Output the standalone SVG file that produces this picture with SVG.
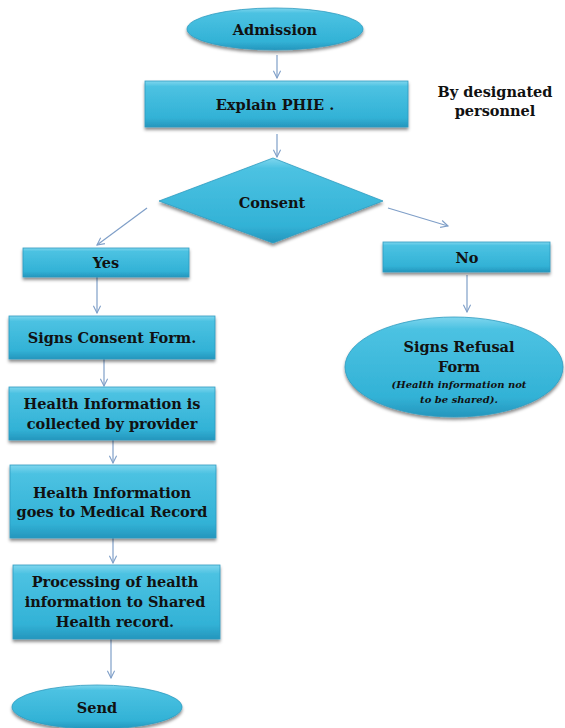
<svg xmlns="http://www.w3.org/2000/svg" width="565" height="728" viewBox="0 0 565 728">
<style>
.n{fill:url(#g);stroke:#2f9cc0;stroke-width:0.8;filter:url(#sh)}
.t{font-family:'DejaVu Serif',serif;font-weight:bold;font-size:14.5px;fill:#111;text-anchor:middle}
.i{font-family:'DejaVu Serif',serif;font-weight:bold;font-style:italic;font-size:10px;fill:#111;text-anchor:middle}
.c{fill:none;stroke:#7f9fc8;stroke-width:1.2}
</style>
<defs>
<linearGradient id="g" x1="0" y1="0" x2="0" y2="1">
<stop offset="0" stop-color="#7fd6ee"/>
<stop offset="0.12" stop-color="#4cc2e2"/>
<stop offset="0.8" stop-color="#32b2d6"/>
<stop offset="1" stop-color="#2596bd"/>
</linearGradient>
<filter id="sh" x="-10%" y="-20%" width="120%" height="150%">
<feDropShadow dx="0" dy="2.5" stdDeviation="1.8" flood-color="#000" flood-opacity="0.45"/>
</filter>
<marker id="a" viewBox="0 0 10 10" refX="9" refY="5" markerWidth="9" markerHeight="9" orient="auto" markerUnits="userSpaceOnUse">
<path d="M1,1 L9,5 L1,9" fill="none" stroke="#7f9fc8" stroke-width="1.2"/>
</marker>
</defs>
<g id="connectors">
<line class="c" x1="277" y1="55" x2="277" y2="78" marker-end="url(#a)"/>
<line class="c" x1="277" y1="134" x2="277" y2="157" marker-end="url(#a)"/>
<line class="c" x1="147" y1="208" x2="97" y2="245" marker-end="url(#a)"/>
<line class="c" x1="388" y1="208" x2="448" y2="226" marker-end="url(#a)"/>
<line class="c" x1="97" y1="277" x2="97" y2="313" marker-end="url(#a)"/>
<line class="c" x1="467" y1="275" x2="467" y2="312" marker-end="url(#a)"/>
<line class="c" x1="104" y1="359" x2="104" y2="386" marker-end="url(#a)"/>
<line class="c" x1="113" y1="440" x2="113" y2="463" marker-end="url(#a)"/>
<line class="c" x1="113" y1="538" x2="113" y2="563" marker-end="url(#a)"/>
<line class="c" x1="111" y1="639" x2="111" y2="678" marker-end="url(#a)"/>
</g>
<g id="admission"><ellipse class="n" cx="275" cy="29" rx="88" ry="21"/><text class="t" x="275" y="35">Admission</text></g>
<g id="explain"><rect class="n" x="145" y="81" width="263" height="46"/><text class="t" x="275" y="110">Explain PHIE .</text></g>
<g id="note"><text class="t" x="495" y="97">By designated</text><text class="t" x="495" y="116">personnel</text></g>
<g id="consent"><polygon class="n" points="273,158 383,201 273,243 159,201"/><text class="t" x="272" y="208">Consent</text></g>
<g id="yes"><rect class="n" x="23" y="248" width="166" height="29"/><text class="t" x="106" y="268">Yes</text></g>
<g id="no"><rect class="n" x="383" y="242" width="167" height="30"/><text class="t" x="467" y="263">No</text></g>
<g id="signs-consent"><rect class="n" x="9" y="316" width="206" height="43"/><text class="t" x="112" y="343">Signs Consent Form.</text></g>
<g id="refusal"><ellipse class="n" cx="454" cy="367" rx="109" ry="50"/><text class="t" x="459" y="352">Signs Refusal</text><text class="t" x="459" y="372">Form</text><text class="i" x="459" y="388">(Health information not</text><text class="i" x="459" y="403">to be shared).</text></g>
<g id="collected"><rect class="n" x="9" y="387" width="206" height="53"/><text class="t" x="112" y="409">Health Information is</text><text class="t" x="112" y="429">collected by provider</text></g>
<g id="medical-record"><rect class="n" x="10" y="465" width="206" height="73"/><text class="t" x="112" y="498">Health Information</text><text class="t" x="112" y="517">goes to Medical Record</text></g>
<g id="processing"><rect class="n" x="13" y="565" width="207" height="74"/><text class="t" x="115" y="587">Processing of health</text><text class="t" x="115" y="607">information to Shared</text><text class="t" x="115" y="627">Health record.</text></g>
<g id="send"><ellipse class="n" cx="97" cy="707" rx="85" ry="22"/><text class="t" x="97" y="713">Send</text></g>
</svg>
